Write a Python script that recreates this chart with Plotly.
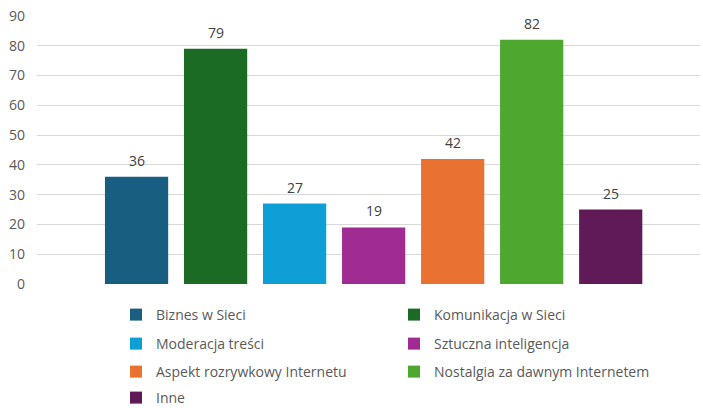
import plotly.graph_objects as go

categories = ["Biznes w Sieci", "Komunikacja w Sieci", "Moderacja treści",
              "Sztuczna inteligencja", "Aspekt rozrywkowy Internetu",
              "Nostalgia za dawnym Internetem", "Inne"]
values = [36, 79, 27, 19, 42, 82, 25]
colors = ["#175E81", "#1B6B24", "#0F9FD7", "#A02B93", "#E97132", "#4EA72E", "#5F1A57"]
y_ticks = [0, 10, 20, 30, 40, 50, 60, 70, 80, 90]

FONT = "Open Sans, Lato, Roboto, sans-serif"
W, H = 703, 408
legend_names = ["legend", "legend2", "legend3", "legend4"]
row_centers_px = [315, 344, 372, 398]

fig = go.Figure()
for i, (cat, val, col) in enumerate(zip(categories, values, colors)):
    fig.add_trace(go.Bar(
        x=[cat], y=[val], name=cat, marker=dict(color=col, line=dict(width=0)),
        width=0.8, legend=legend_names[i // 2], showlegend=True,
    ))
    fig.add_annotation(
        x=cat, y=val, text=str(val), showarrow=False, yanchor="bottom",
        yshift=5, font=dict(size=14, color="#404040", family=FONT),
    )

legend_common = dict(
    orientation="h", xref="container", yref="container",
    x=116 / W, xanchor="left", yanchor="middle",
    entrywidth=233, entrywidthmode="pixels",
    font=dict(size=14, color="#595959", family=FONT),
    bgcolor="rgba(0,0,0,0)", traceorder="normal",
)
layout_legends = {}
for name, ypx in zip(legend_names, row_centers_px):
    layout_legends[name] = dict(legend_common, y=1 - ypx / H)

fig.update_layout(
    width=W, height=H,
    margin=dict(l=37, r=3, t=16, b=124, autoexpand=False),
    paper_bgcolor="white", plot_bgcolor="white",
    barmode="overlay",
    font=dict(family=FONT, color="#595959", size=13),
    showlegend=True,
    xaxis=dict(
        type="category", categoryorder="array", categoryarray=categories,
        range=[-1.26, 7.13], showticklabels=False, showgrid=False,
        zeroline=False, showline=False, ticks="", automargin=False,
    ),
    yaxis=dict(
        range=[0, 90], tickvals=y_ticks, showgrid=True, gridcolor="#D9D9D9",
        gridwidth=1, zeroline=False, showline=False, ticks="",
        tickfont=dict(size=14, color="#595959", family=FONT),
        ticklabelstandoff=11, automargin=False,
    ),
    **layout_legends,
)

fig.write_html(
    "out.html",
    config={"displayModeBar": False},
    post_script="document.body.style.margin='0';document.body.style.padding='0';",
)
